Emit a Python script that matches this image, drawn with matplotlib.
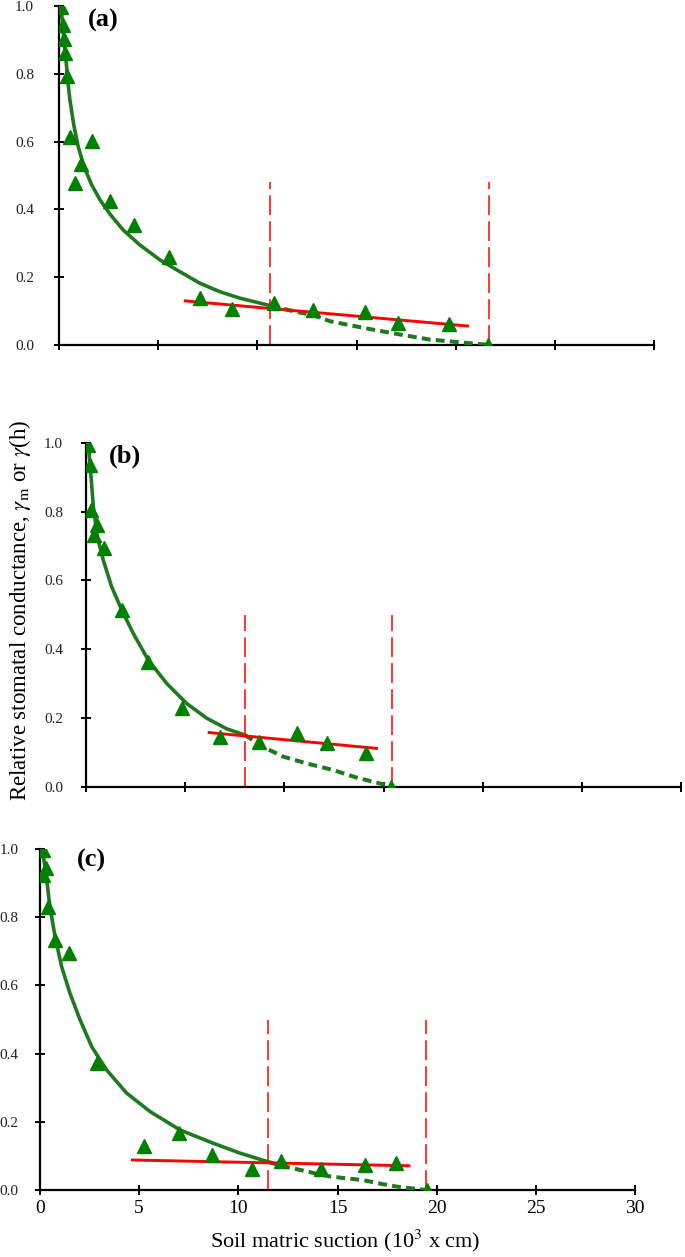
import matplotlib
matplotlib.use("Agg")
import matplotlib.pyplot as plt

GREEN = "#008000"
CURVE = "#1f7a1f"
RED = "#ff0000"

plt.rcParams["font.family"] = ["Liberation Serif", "DejaVu Serif"]
plt.rcParams["mathtext.fontset"] = "stix"

# ---- panel (a) ----
a_obs_x = [0.10, 0.22, 0.27, 0.30, 0.39, 0.55, 1.68, 1.11, 0.82, 2.57, 3.80, 5.56,
           7.11, 8.74, 10.84, 12.82, 15.43, 17.08, 19.67, 21.65]
a_obs_y = [0.997, 0.944, 0.903, 0.861, 0.794, 0.614, 0.602, 0.534, 0.478, 0.425, 0.354, 0.260,
           0.139, 0.106, 0.124, 0.103, 0.098, 0.064, 0.062, 0.0]
a_fit_x = [0.10, 0.22, 0.34, 0.44, 0.55, 0.76, 0.97, 1.26, 1.65, 2.07, 2.57, 3.24, 4.08,
           5.09, 6.10, 7.11, 8.12, 9.13, 10.66]
a_fit_y = [0.998, 0.919, 0.850, 0.782, 0.723, 0.644, 0.585, 0.526, 0.472, 0.428, 0.386, 0.339,
           0.295, 0.251, 0.216, 0.182, 0.157, 0.138, 0.116]
a_ext_x = [10.66, 11.80, 12.82, 13.67, 14.80, 15.85, 17.30, 18.70, 20.20, 21.70]
a_ext_y = [0.116, 0.100, 0.088, 0.070, 0.057, 0.045, 0.030, 0.016, 0.008, 0.0]
a_lin_x = [6.37, 20.60]
a_lin_y = [0.130, 0.056]
a_vlines = [10.66, 21.70]
a_vtop = 0.48

# ---- panel (b) ----
b_obs_x = [0.12, 0.20, 0.24, 0.54, 0.42, 0.92, 1.80, 3.14, 4.82, 6.75, 8.73, 10.66,
           12.17, 14.14, 15.40]
b_obs_y = [0.994, 0.936, 0.805, 0.761, 0.732, 0.694, 0.514, 0.363, 0.228, 0.145, 0.130, 0.155,
           0.128, 0.098, 0.0]
b_fit_x = [0.12, 0.24, 0.37, 0.57, 0.87, 1.29, 1.80, 2.38, 3.14, 4.07, 5.07, 6.08, 7.09, 8.01]
b_fit_y = [0.994, 0.912, 0.815, 0.727, 0.659, 0.582, 0.514, 0.446, 0.368, 0.300, 0.242, 0.199,
           0.168, 0.150]
b_ext_x = [8.01, 8.90, 9.94, 11.20, 12.46, 13.64, 14.60, 15.40]
b_ext_y = [0.150, 0.116, 0.087, 0.066, 0.048, 0.026, 0.012, 0.0]
b_lin_x = [6.21, 14.65]
b_lin_y = [0.157, 0.111]
b_vlines = [8.01, 15.43]
b_vtop = 0.50

# ---- panel (c) ----
c_obs_x = [0.13, 0.30, 0.13, 0.42, 0.76, 1.48, 2.86, 5.24, 7.03, 8.69, 10.67, 12.15,
           14.17, 16.39, 17.94, 19.50]
c_obs_y = [0.997, 0.943, 0.924, 0.831, 0.733, 0.694, 0.373, 0.129, 0.168, 0.103, 0.061, 0.086,
           0.061, 0.073, 0.078, 0.0]
c_fit_x = [0.13, 0.34, 0.50, 0.76, 1.09, 1.51, 2.02, 2.61, 3.36, 4.37, 5.55, 7.06, 8.74,
           10.09, 11.48]
c_fit_y = [0.997, 0.909, 0.831, 0.743, 0.655, 0.577, 0.499, 0.420, 0.352, 0.284, 0.230, 0.176,
           0.137, 0.108, 0.083]
c_ext_x = [11.48, 12.30, 13.11, 14.00, 14.70, 15.50, 16.30, 17.20, 17.99, 19.46]
c_ext_y = [0.083, 0.069, 0.059, 0.047, 0.039, 0.034, 0.029, 0.018, 0.010, 0.0]
c_lin_x = [4.66, 18.60]
c_lin_y = [0.088, 0.071]
c_vlines = [11.48, 19.46]
c_vtop = 0.50

x_ticks = [0, 5, 10, 15, 20, 25, 30]
y_ticks = [0.0, 0.2, 0.4, 0.6, 0.8, 1.0]

W, H = 685, 1257
fig = plt.figure(figsize=(W / 100, H / 100), dpi=100)


def px_axes(left, top, bottom, width=595):
    return fig.add_axes([left / W, 1 - bottom / H, width / W, (bottom - top) / H])


panels = [
    ("(a)", px_axes(59, 6, 345), a_obs_x, a_obs_y, a_fit_x, a_fit_y, a_ext_x, a_ext_y,
     a_lin_x, a_lin_y, a_vlines, a_vtop, 1.45, 0.99, 14.5, False),
    ("(b)", px_axes(86, 443, 786.5), b_obs_x, b_obs_y, b_fit_x, b_fit_y, b_ext_x, b_ext_y,
     b_lin_x, b_lin_y, b_vlines, b_vtop, 1.15, 0.995, 13, False),
    ("(c)", px_axes(40, 849, 1190), c_obs_x, c_obs_y, c_fit_x, c_fit_y, c_ext_x, c_ext_y,
     c_lin_x, c_lin_y, c_vlines, c_vtop, 1.85, 1.0, 12, True),
]

for (tag, ax, ox, oy, fx, fy, ex, ey, lx, ly, vl, vtop, tag_x, tag_y, ypad, show_x) in panels:
    ax.plot(fx, fy, color=CURVE, lw=2.6, solid_capstyle="round", zorder=3)
    ax.plot(ex, ey, color=CURVE, lw=2.9, dashes=(2.2, 1.3), zorder=3)
    ax.plot(lx, ly, color=RED, lw=2.1, zorder=4)
    for v in vl:
        ax.plot([v, v], [0, vtop], color=RED, lw=1.1, dashes=(13, 4), zorder=2)
    ax.plot(ox, oy, linestyle="none", marker="^", markersize=10.5, color=GREEN,
            markeredgecolor=GREEN, zorder=5)

    ax.set_xlim(0, 30)
    ax.set_ylim(0, 1.0)
    ax.set_xticks(x_ticks)
    ax.set_yticks(y_ticks)
    ax.set_yticklabels([f"{t:.1f}" for t in y_ticks], fontsize=11)
    if show_x:
        ax.set_xticklabels([str(t) for t in x_ticks], fontsize=14)
    else:
        ax.set_xticklabels([])
    ax.tick_params(direction="inout", length=7, width=1.4, colors="black")
    ax.tick_params(axis="y", pad=ypad, labelcolor="#222222")
    ax.tick_params(axis="x", pad=4)
    for s in ("top", "right"):
        ax.spines[s].set_visible(False)
    for s in ("left", "bottom"):
        ax.spines[s].set_linewidth(1.6)
    ax.text(tag_x, tag_y, tag, fontsize=19, fontweight="bold", va="top", ha="left")

fig.text(20 / W, 1 - 610 / H,
         r"Relative stomatal conductance, $\gamma_{\mathrm{m}}$ or $\gamma$(h)",
         rotation=90, fontsize=16.5, ha="center", va="center")
fig.text(345 / W, 1 - 1241 / H, r"Soil matric suction (10$^{3}$ x cm)",
         fontsize=16, ha="center", va="center")

fig.savefig("out.png", dpi=100, facecolor="white")
